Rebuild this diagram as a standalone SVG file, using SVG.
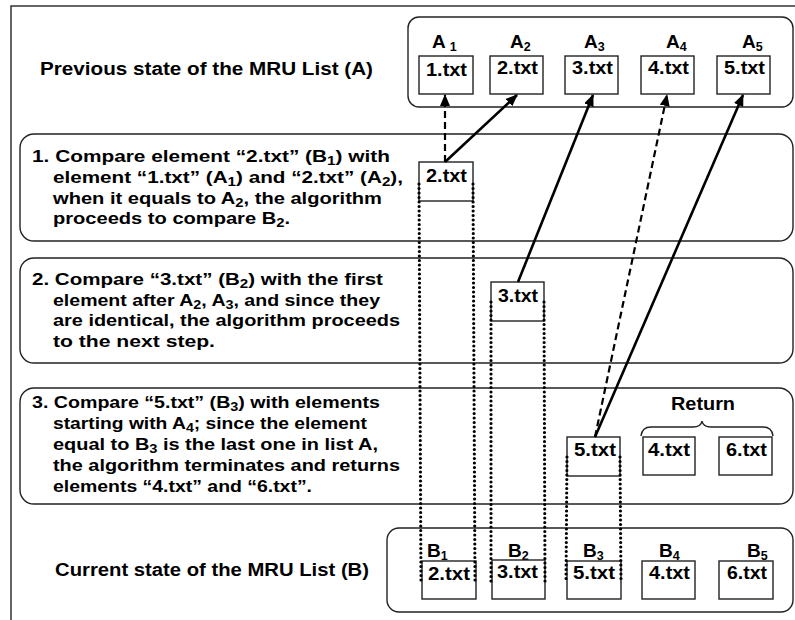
<svg xmlns="http://www.w3.org/2000/svg" width="795" height="620" viewBox="0 0 795 620">
<style>
text{font-family:"Liberation Sans",Arial,Helvetica,sans-serif;font-weight:bold;fill:#000}
.t{font-size:17px}
.h{font-size:17.5px}
.b{font-size:18px}
.l{font-size:19px}
.s{font-size:12.5px}
.cont{fill:none;stroke:#222;stroke-width:1.4}
.box{fill:#fff;stroke:#222;stroke-width:1.4}
.sol{stroke:#000;stroke-width:2.6;fill:none}
.dsh{stroke:#000;stroke-width:2.2;fill:none;stroke-dasharray:7 4}
.dot{stroke:#000;stroke-width:3.2;fill:none;stroke-dasharray:0 4.5;stroke-linecap:round}
.frame{stroke:#333;stroke-width:1.5;fill:none}
</style>
<defs>
<marker id="ah" markerUnits="userSpaceOnUse" markerWidth="12" markerHeight="10" refX="11" refY="5" orient="auto">
<path d="M0,0 L12,5 L0,10 Z" fill="#000"/>
</marker>
</defs>
<rect width="795" height="620" fill="#fff"/>
<path class="frame" d="M11,620 L11,6 L795,6"/>

<g id="listA">
<rect class="cont" x="408" y="17" width="385" height="90" rx="11"/>
<text class="h" x="40" y="75" textLength="333" lengthAdjust="spacingAndGlyphs">Previous state of the MRU List (A)</text>
</g>
<g id="A1"><text class="l" x="432" y="48">A<tspan class="s" dx="4" dy="3">1</tspan></text>
<rect class="box" x="419" y="56" width="54" height="38"/><text class="b" x="426" y="76" textLength="41" lengthAdjust="spacingAndGlyphs">1.txt</text></g>
<g id="A2"><text class="l" x="510" y="48">A<tspan class="s" dy="3">2</tspan></text>
<rect class="box" x="490" y="56" width="53" height="38"/><text class="b" x="497" y="74" textLength="41" lengthAdjust="spacingAndGlyphs">2.txt</text></g>
<g id="A3"><text class="l" x="584" y="48">A<tspan class="s" dy="3">3</tspan></text>
<rect class="box" x="565" y="56" width="53" height="38"/><text class="b" x="572" y="74" textLength="41" lengthAdjust="spacingAndGlyphs">3.txt</text></g>
<g id="A4"><text class="l" x="666" y="48">A<tspan class="s" dy="3">4</tspan></text>
<rect class="box" x="641" y="56" width="53" height="38"/><text class="b" x="648" y="74" textLength="41" lengthAdjust="spacingAndGlyphs">4.txt</text></g>
<g id="A5"><text class="l" x="742" y="48">A<tspan class="s" dy="3">5</tspan></text>
<rect class="box" x="717" y="56" width="53" height="38"/><text class="b" x="724" y="74" textLength="41" lengthAdjust="spacingAndGlyphs">5.txt</text></g>

<g id="step1">
<rect class="cont" x="20" y="134" width="773" height="107" rx="14"/>
<text class="t" x="32" y="162" textLength="358" lengthAdjust="spacingAndGlyphs">1. Compare element “2.txt” (B<tspan class="s" dy="3">1</tspan><tspan dy="-3">) with</tspan></text>
<text class="t" x="53" y="183" textLength="350" lengthAdjust="spacingAndGlyphs">element “1.txt” (A<tspan class="s" dy="3">1</tspan><tspan dy="-3">) and “2.txt” (A</tspan><tspan class="s" dy="3">2</tspan><tspan dy="-3">),</tspan></text>
<text class="t" x="53" y="204" textLength="329" lengthAdjust="spacingAndGlyphs">when it equals to A<tspan class="s" dy="3">2</tspan><tspan dy="-3">, the algorithm</tspan></text>
<text class="t" x="53" y="224" textLength="237" lengthAdjust="spacingAndGlyphs">proceeds to compare B<tspan class="s" dy="3">2</tspan><tspan dy="-3">.</tspan></text>
</g>
<g id="s1box"><rect class="box" x="419" y="162" width="54" height="39"/><text class="b" x="426" y="182" textLength="41" lengthAdjust="spacingAndGlyphs">2.txt</text></g>

<g id="step2">
<rect class="cont" x="20" y="258" width="773" height="105" rx="14"/>
<text class="t" x="32" y="285" textLength="351" lengthAdjust="spacingAndGlyphs">2. Compare “3.txt” (B<tspan class="s" dy="3">2</tspan><tspan dy="-3">) with the first</tspan></text>
<text class="t" x="53" y="306" textLength="327" lengthAdjust="spacingAndGlyphs">element after A<tspan class="s" dy="3">2</tspan><tspan dy="-3">, A</tspan><tspan class="s" dy="3">3</tspan><tspan dy="-3">, and since they</tspan></text>
<text class="t" x="53" y="326" textLength="347" lengthAdjust="spacingAndGlyphs">are identical, the algorithm proceeds</text>
<text class="t" x="53" y="347" textLength="162" lengthAdjust="spacingAndGlyphs">to the next step.</text>
</g>
<g id="s2box"><rect class="box" x="491" y="282" width="53" height="39"/><text class="b" x="498" y="302" textLength="40" lengthAdjust="spacingAndGlyphs">3.txt</text></g>

<g id="step3">
<rect class="cont" x="20" y="388" width="773" height="116" rx="14"/>
<text class="t" x="32" y="408" textLength="348" lengthAdjust="spacingAndGlyphs">3. Compare “5.txt” (B<tspan class="s" dy="3">3</tspan><tspan dy="-3">) with elements</tspan></text>
<text class="t" x="53" y="429" textLength="314" lengthAdjust="spacingAndGlyphs">starting with A<tspan class="s" dy="3">4</tspan><tspan dy="-3">; since the element</tspan></text>
<text class="t" x="53" y="450" textLength="325" lengthAdjust="spacingAndGlyphs">equal to B<tspan class="s" dy="3">3</tspan><tspan dy="-3"> is the last one in list A,</tspan></text>
<text class="t" x="53" y="471" textLength="347" lengthAdjust="spacingAndGlyphs">the algorithm terminates and returns</text>
<text class="t" x="53" y="492" textLength="259" lengthAdjust="spacingAndGlyphs">elements “4.txt” and “6.txt”.</text>
</g>
<g id="s3box5"><rect class="box" x="567" y="437" width="53" height="39"/><text class="b" x="574" y="456" textLength="42" lengthAdjust="spacingAndGlyphs">5.txt</text></g>
<g id="return">
<text class="h" x="671" y="410" textLength="64" lengthAdjust="spacingAndGlyphs">Return</text>
<path d="M641,436 Q642,427 651,427 L693,427 Q701,427 702,421 Q703,427 711,427 L763,427 Q772,427 773,436" fill="none" stroke="#222" stroke-width="1.4"/>
</g>
<g id="s3box4"><rect class="box" x="643" y="437" width="52" height="38"/><text class="b" x="648" y="456" textLength="42" lengthAdjust="spacingAndGlyphs">4.txt</text></g>
<g id="s3box6"><rect class="box" x="719" y="437" width="53" height="38"/><text class="b" x="726" y="456" textLength="41" lengthAdjust="spacingAndGlyphs">6.txt</text></g>

<g id="listB">
<rect class="cont" x="387" y="528" width="406" height="84" rx="12"/>
<text class="h" x="55" y="576" textLength="314" lengthAdjust="spacingAndGlyphs">Current state of the MRU List (B)</text>
</g>
<g id="B1"><text class="l" x="427" y="557">B<tspan class="s" dy="3">1</tspan></text>
<rect class="box" x="422" y="561" width="54" height="38"/><text class="b" x="428" y="580" textLength="42" lengthAdjust="spacingAndGlyphs">2.txt</text></g>
<g id="B2"><text class="l" x="508" y="557">B<tspan class="s" dy="3">2</tspan></text>
<rect class="box" x="492" y="560" width="53" height="39"/><text class="b" x="497" y="578" textLength="41" lengthAdjust="spacingAndGlyphs">3.txt</text></g>
<g id="B3"><text class="l" x="583" y="557">B<tspan class="s" dy="3">3</tspan></text>
<rect class="box" x="567" y="561" width="54" height="38"/><text class="b" x="573" y="579" textLength="42" lengthAdjust="spacingAndGlyphs">5.txt</text></g>
<g id="B4"><text class="l" x="659" y="557">B<tspan class="s" dy="3">4</tspan></text>
<rect class="box" x="642" y="561" width="53" height="38"/><text class="b" x="649" y="579" textLength="41" lengthAdjust="spacingAndGlyphs">4.txt</text></g>
<g id="B5"><text class="l" x="747" y="557">B<tspan class="s" dy="3">5</tspan></text>
<rect class="box" x="719" y="561" width="54" height="38"/><text class="b" x="727" y="579" textLength="40" lengthAdjust="spacingAndGlyphs">6.txt</text></g>

<g id="connectors">
<line class="dot" x1="419" y1="184" x2="421" y2="582"/>
<line class="dot" x1="473" y1="184" x2="475" y2="582"/>
<line class="dot" x1="491" y1="302" x2="491" y2="582"/>
<line class="dot" x1="544" y1="302" x2="545" y2="582"/>
<line class="dot" x1="567" y1="457" x2="566" y2="582"/>
<line class="dot" x1="620" y1="457" x2="621" y2="582"/>
<line class="dsh" x1="445" y1="162" x2="445" y2="95" marker-end="url(#ah)"/>
<line class="sol" x1="445" y1="162" x2="517" y2="95" marker-end="url(#ah)"/>
<line class="sol" x1="518" y1="282" x2="593" y2="95" marker-end="url(#ah)"/>
<line class="dsh" x1="595" y1="437" x2="667" y2="95" marker-end="url(#ah)"/>
<line class="sol" x1="595" y1="437" x2="743" y2="95" marker-end="url(#ah)"/>
</g>
</svg>
